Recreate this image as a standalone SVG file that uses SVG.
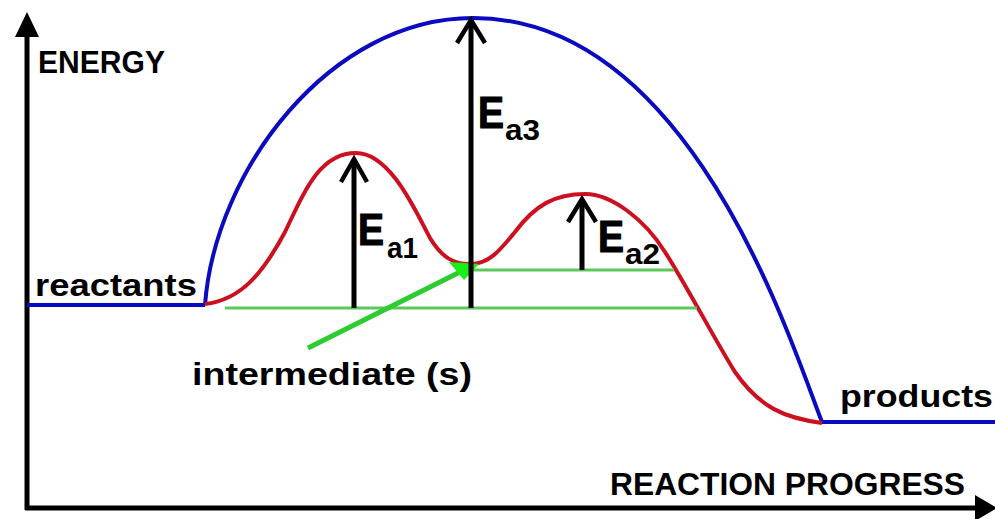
<svg xmlns="http://www.w3.org/2000/svg" width="995" height="519" viewBox="0 0 995 519">
<style>
.lbl{font-family:"Liberation Sans",Arial,sans-serif;font-weight:bold;fill:#000}
.big{stroke:#000;stroke-width:1.2}
.blue{fill:none;stroke:#0a0ac0;stroke-width:4;stroke-linejoin:round}
.red{fill:none;stroke:#cc1020;stroke-width:4;stroke-linejoin:round}
.gline{stroke:#5cc85c;stroke-width:3}
.blk{stroke:#000;stroke-width:5}
.chev{fill:none;stroke:#000;stroke-width:4.5;stroke-linejoin:miter}
</style>
<rect width="995" height="519" fill="#fff"/>
<g id="axes">
  <line class="blk" x1="27" y1="30" x2="27" y2="510"/>
  <polygon points="27,12 39,37 15,37" fill="#000"/>
  <line class="blk" x1="25" y1="508" x2="980" y2="508"/>
  <polygon points="975,495 997,508 975,521" fill="#000"/>
  <text id="energy" class="lbl" x="38" y="73" font-size="31" textLength="127" lengthAdjust="spacingAndGlyphs">ENERGY</text>
  <text id="progress" class="lbl" x="610" y="495" font-size="31" textLength="355" lengthAdjust="spacingAndGlyphs">REACTION PROGRESS</text>
</g>
<g id="uncatalysed">
  <line class="blue" x1="27" y1="305" x2="205" y2="305"/>
  <path class="blue" d="M205,305 C215,170 330,18 473,18 C690,18 790,340 822,422"/>
  <line class="blue" x1="822" y1="422" x2="995" y2="422"/>
</g>
<g id="catalysed">
  <path class="red" d="M205,304 C240,300 262,275 285,232 C305,190 320,153 356,153 C390,153 415,210 430,238 C442,258 455,265 472,264 C490,263 500,250 515,232 C535,205 555,194 585,194 C612,194 645,220 665,252 C685,283 715,340 735,372 C760,408 785,418 822,423"/>
</g>
<g id="connectors">
  <line class="gline" x1="225" y1="308" x2="697" y2="308"/>
  <line class="gline" x1="470" y1="270" x2="674" y2="270"/>
  <line x1="308" y1="348" x2="462" y2="271" stroke="#2ecc2e" stroke-width="5"/>
  <polygon points="449,262 479,264 464,280" fill="#18ee18"/>
  <line class="blk" x1="354" y1="308" x2="354" y2="160"/>
  <polyline class="chev" points="341,182 354,159 367,182"/>
  <line class="blk" x1="471" y1="308" x2="471" y2="22"/>
  <polyline class="chev" points="457,43 471,20 485,43"/>
  <line class="blk" x1="582" y1="270" x2="582" y2="200"/>
  <polyline class="chev" points="568,222 582,199 596,222"/>
</g>
<g id="labels">
  <text id="reactants" class="lbl" x="35" y="296" font-size="31" textLength="162" lengthAdjust="spacingAndGlyphs">reactants</text>
  <text id="products" class="lbl" x="840" y="407" font-size="31" textLength="153" lengthAdjust="spacingAndGlyphs">products</text>
  <text id="intermediate" class="lbl" x="192" y="385" font-size="32" textLength="280" lengthAdjust="spacingAndGlyphs">intermediate (s)</text>
  <g id="ea1"><text class="lbl big" x="358" y="245" font-size="45" textLength="26" lengthAdjust="spacingAndGlyphs">E</text><text class="lbl" x="387" y="258" font-size="30" textLength="31" lengthAdjust="spacingAndGlyphs">a1</text></g>
  <g id="ea3"><text class="lbl big" x="478" y="128" font-size="45" textLength="26" lengthAdjust="spacingAndGlyphs">E</text><text class="lbl" x="505" y="140" font-size="30" textLength="35" lengthAdjust="spacingAndGlyphs">a3</text></g>
  <g id="ea2"><text class="lbl big" x="598" y="252" font-size="45" textLength="26" lengthAdjust="spacingAndGlyphs">E</text><text class="lbl" x="625" y="264" font-size="30" textLength="35" lengthAdjust="spacingAndGlyphs">a2</text></g>
</g>
</svg>
